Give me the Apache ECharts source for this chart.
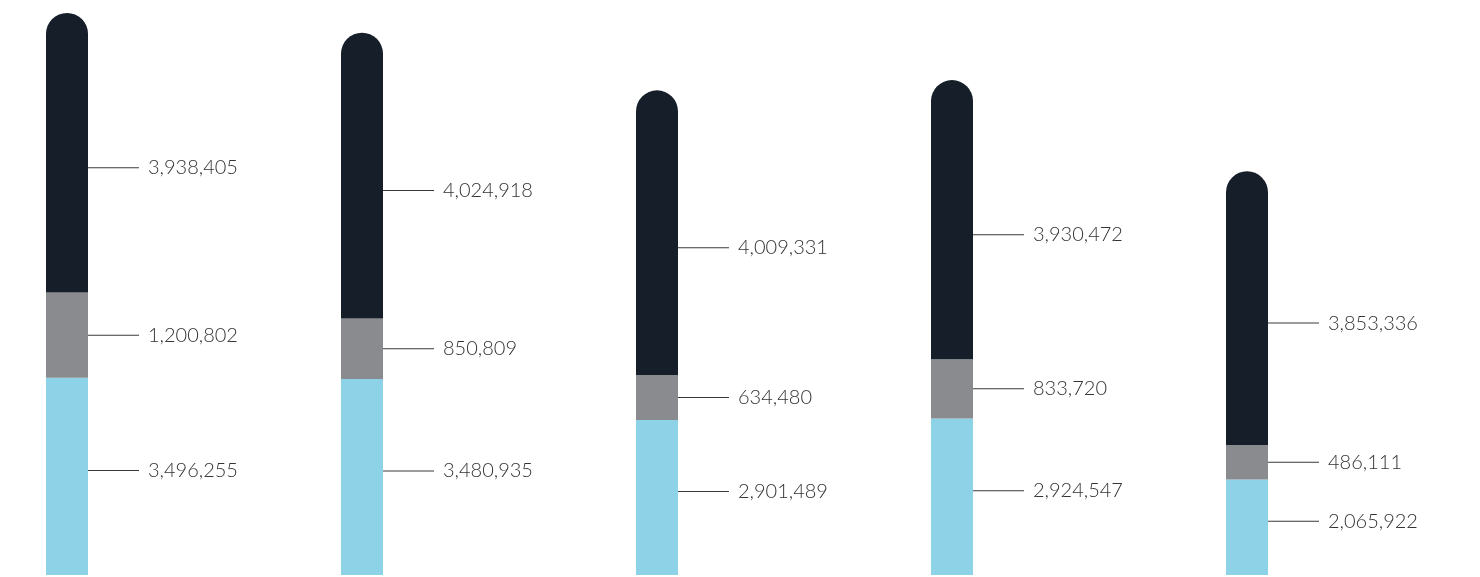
<!DOCTYPE html>
<html>
<head>
<meta charset="utf-8">
<script src="https://cdn.jsdelivr.net/npm/echarts@6/dist/echarts.min.js"></script>
<style>
  html, body { margin: 0; padding: 0; background: #ffffff; }
  #chart { width: 1480px; height: 577px; }
</style>
</head>
<body>
<div id="chart"></div>
<script>
const categories = ['Group 1', 'Group 2', 'Group 3', 'Group 4', 'Group 5'];
const lightValues = [3496255, 3480935, 2901489, 2924547, 2065922];
const grayValues = [1200802, 850809, 634480, 833720, 486111];
const darkValues = [3938405, 4024918, 4009331, 3930472, 3853336];

const chart = echarts.init(document.getElementById('chart'), null, { renderer: 'canvas' });

const fmt = p => '{line|}{val|' + p.value.toLocaleString('en-US') + '}';

function makeSeries(name, data, color, radius, offsetY) {
  return {
    name: name,
    type: 'bar',
    stack: 'total',
    data: data,
    barWidth: 42,
    itemStyle: { color: color, borderRadius: radius },
    label: {
      show: true,
      position: 'right',
      distance: 0,
      offset: [0, offsetY],
      formatter: fmt,
      rich: {
        line: { width: 51, height: 1, backgroundColor: '#3a3a3a' },
        val: {
          color: '#333333',
          fontFamily: 'Lato, "Open Sans", sans-serif',
          fontWeight: 300,
          fontSize: 20,
          padding: [0, 0, 0, 9]
        }
      }
    },
    emphasis: { disabled: true },
    silent: true
  };
}

chart.setOption({
  animation: false,
  grid: { left: 67, right: 233, top: 0, bottom: 2, containLabel: false },
  xAxis: {
    type: 'category',
    data: categories,
    boundaryGap: false,
    show: false
  },
  yAxis: {
    type: 'value',
    min: 720000,
    max: 8817000,
    show: false
  },
  series: [
    makeSeries('Light', lightValues, '#8ed2e7', 0, -6),
    makeSeries('Gray', grayValues, '#8a8b8e', 0, 0),
    makeSeries('Dark', darkValues, '#161f29', [21, 21, 0, 0], 15)
  ]
});
</script>
</body>
</html>
